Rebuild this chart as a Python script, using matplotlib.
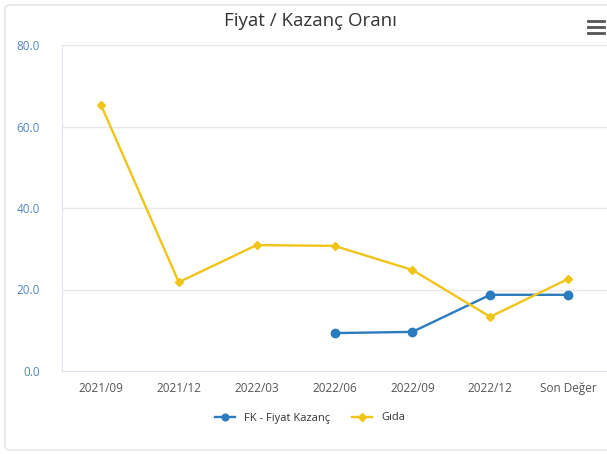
import matplotlib
matplotlib.use("Agg")
import matplotlib.pyplot as plt
from matplotlib.patches import FancyBboxPatch
from matplotlib.lines import Line2D

categories = ["2021/09", "2021/12", "2022/03", "2022/06", "2022/09", "2022/12", "Son Değer"]
fk_values = [None, None, None, 9.3, 9.6, 18.7, 18.7]
gida_values = [65.3, 21.8, 30.9, 30.7, 24.8, 13.3, 22.6]
y_ticks = [0, 20, 40, 60, 80]
y_labels = ["0.0", "20.0", "40.0", "60.0", "80.0"]

plt.rcParams['font.family'] = ['Open Sans', 'DejaVu Sans']

W, H = 607, 454
fig = plt.figure(figsize=(W / 100, H / 100), dpi=100)
fig.patch.set_facecolor("white")

# outer frame
frame = FancyBboxPatch((5 / W, 4 / H), 640 / W, 445 / H,
                       boxstyle="round,pad=0,rounding_size=0.01",
                       transform=fig.transFigure, facecolor="none",
                       edgecolor="#e6e6e6", linewidth=1.2)
fig.patches.append(frame)

ax = fig.add_axes([62 / W, 83 / H, (607 - 62) / W, (371 - 45) / H])
ax.set_facecolor("white")
x = list(range(len(categories)))

fk_x = [i for i, v in zip(x, fk_values) if v is not None]
fk_y = [v for v in fk_values if v is not None]
ax.plot(fk_x, fk_y, color="#2b7bbf", linewidth=1.7, marker="o", markersize=6,
        label="FK - Fiyat Kazanç", zorder=3)
ax.plot(x, gida_values, color="#f0c419", linewidth=1.7, marker="D", markersize=4.5,
        label="Gıda", zorder=3)

ax.set_xlim(-0.5, len(categories) - 0.5)
ax.set_ylim(0, 80)
ax.set_yticks(y_ticks)
ax.set_yticklabels(y_labels, color="#4f86c6", fontsize=8.5)
ax.set_xticks(x)
ax.set_xticklabels(categories, color="#555555", fontsize=8.5)
ax.tick_params(axis="both", length=0)
ax.tick_params(axis="y", pad=16)
ax.tick_params(axis="x", pad=8)
for lbl in ax.get_yticklabels():
    lbl.set_horizontalalignment("right")

ax.grid(axis="y", color="#e8e8e8", linewidth=1)
ax.set_axisbelow(True)
for s in ["top", "right"]:
    ax.spines[s].set_visible(False)
ax.spines["left"].set_color("#dde3ef")
ax.spines["bottom"].set_color("#dde3ef")

fig.text(310 / W, 1 - 21 / H, "Fiyat / Kazanç Oranı", ha="center", va="center",
         fontsize=13.5, color="#333333")

# hamburger icon
for yy in [21, 27, 33]:
    fig.add_artist(Line2D([588 / W, 604 / W], [1 - yy / H, 1 - yy / H],
                          transform=fig.transFigure, color="#555555", linewidth=2))

leg = fig.legend(*ax.get_legend_handles_labels(), loc="center",
                 bbox_to_anchor=(310 / W, 1 - 418 / H), ncol=2, frameon=False,
                 fontsize=8, columnspacing=2.0, handlelength=1.8, markerscale=0.8)
for t in leg.get_texts():
    t.set_color("#333333")

fig.savefig("out.png", dpi=100, facecolor="white")
